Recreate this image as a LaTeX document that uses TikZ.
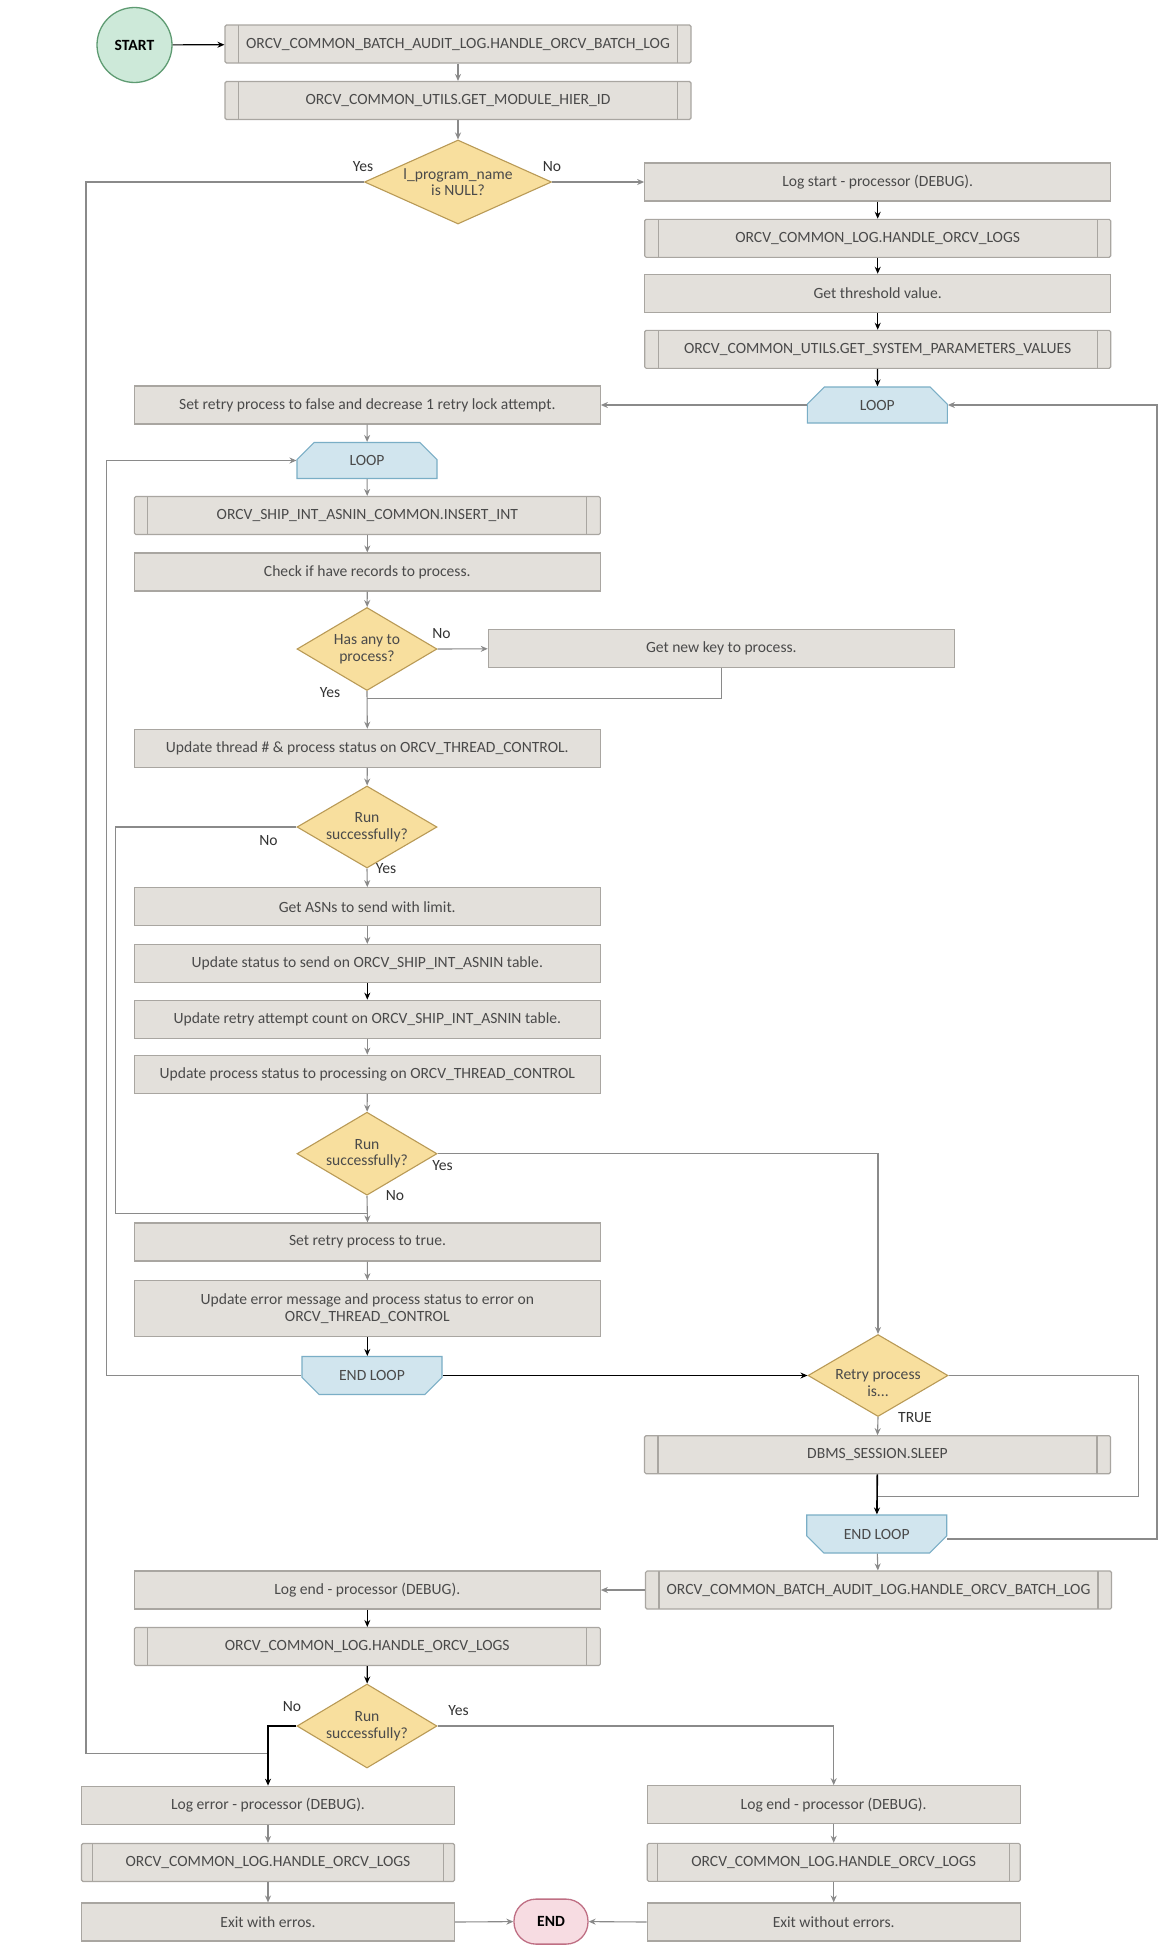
\documentclass[tikz,border=0pt]{standalone}
\usepackage{fontspec}
\setmainfont{Carlito}
\usetikzlibrary{shapes.geometric,shapes.misc,arrows.meta,calc}
\definecolor{boxfill}{HTML}{E3E0DB}
\definecolor{boxline}{HTML}{A9A6A1}
\definecolor{decfill}{HTML}{F8DF9E}
\definecolor{decline}{HTML}{B99A56}
\definecolor{loopfill}{HTML}{D1E5EE}
\definecolor{loopline}{HTML}{7AAEC6}
\definecolor{startfill}{HTML}{CDE9D9}
\definecolor{startline}{HTML}{5E9B72}
\definecolor{endfill}{HTML}{F7DCE2}
\definecolor{endline}{HTML}{BF6F84}
\definecolor{lgray}{HTML}{8A8A8A}
\definecolor{txt}{HTML}{4A4A4A}
\definecolor{lbltxt}{HTML}{333333}
\begin{document}
\begin{tikzpicture}[x=1pt,y=-1pt,
  font=\fontsize{15.6}{17}\selectfont,
  proc/.style={rectangle, draw=boxline, fill=boxfill, line width=1.1pt,
    minimum width=466pt, minimum height=38pt, inner sep=0pt, text=txt, align=center},
  narrow/.style={minimum width=373pt},
  sub/.style={proc, rounded corners=1.5pt,
    path picture={\draw[boxline, line width=1.1pt]
      ([xshift=#1]path picture bounding box.north west) -- ([xshift=#1]path picture bounding box.south west)
      ([xshift=-#1]path picture bounding box.north east) -- ([xshift=-#1]path picture bounding box.south east);}},
  sub/.default=13.5pt,
  dec/.style={diamond, draw=decline, fill=decfill, line width=1.1pt, inner sep=0pt,
    text=txt, align=center, font=\fontsize{15.6}{16.5}\selectfont},
  dectext/.style={text=txt, align=center, inner sep=0pt, font=\fontsize{15.6}{16.5}\selectfont},
  loopst/.style={chamfered rectangle, chamfered rectangle corners={north west,north east},
    chamfered rectangle xsep=30pt, chamfered rectangle ysep=12pt,
    draw=loopline, fill=loopfill, line width=1.1pt,
    minimum width=140pt, minimum height=36pt, inner sep=0pt, text=txt},
  loopend/.style={loopst, chamfered rectangle corners={south west,south east}, minimum height=38pt},
  arr/.style={draw=lgray, line width=1.1pt, -{Stealth[length=7pt,width=6pt]}},
  arrk/.style={draw=black, line width=1.2pt, -{Stealth[length=7pt,width=6pt]}},
  ln/.style={draw=lgray, line width=1.1pt},
  lbl/.style={text=lbltxt, inner sep=0pt, font=\fontsize{15.6}{17}\selectfont}
]
\useasboundingbox[fill=white] (0,0) rectangle (1166,1946);

% nodes
\node[circle, draw=startline, fill=startfill, line width=1.3pt, minimum size=75pt, inner sep=0pt,
  font=\bfseries\fontsize{15.6}{17}\selectfont] (start) at (134.5,45) {START};
\node[sub] (b1) at (458,44) {ORCV\_COMMON\_BATCH\_AUDIT\_LOG.HANDLE\_ORCV\_BATCH\_LOG};
\node[sub] (b2) at (458,100.5) {ORCV\_COMMON\_UTILS.GET\_MODULE\_HIER\_ID};
\node[dec, minimum width=187pt, minimum height=84pt, aspect=2.2] (d1) at (458,182) {l\_program\_name\\is NULL?};
\node[proc] (ls) at (877.7,182) {Log start - processor (DEBUG).};
\node[sub] (lh) at (877.7,238.3) {ORCV\_COMMON\_LOG.HANDLE\_ORCV\_LOGS};
\node[proc] (th) at (877.7,293.3) {Get threshold value.};
\node[sub] (gs) at (877.7,349.3) {ORCV\_COMMON\_UTILS.GET\_SYSTEM\_PARAMETERS\_VALUES};
\node[loopst] (l1) at (877.3,405) {LOOP};
\node[proc] (sf) at (367.3,405) {Set retry process to false and decrease 1 retry lock attempt.};
\node[loopst] (l2) at (367,460.5) {LOOP};
\node[sub] (ins) at (367.3,515.5) {ORCV\_SHIP\_INT\_ASNIN\_COMMON.INSERT\_INT};
\node[proc] (chk) at (367.3,572) {Check if have records to process.};
\node[dec, minimum width=140pt, minimum height=83pt, aspect=1.7] (d2) at (367,649) {Has any to\\process?};
\node[proc] (gnk) at (721.3,648.8) {Get new key to process.};
\node[proc] (ut) at (367.3,748.3) {Update thread \# \& process status on ORCV\_THREAD\_CONTROL.};
\node[dec, minimum width=140pt, minimum height=82pt, aspect=1.7] (d3) at (367,827) {Run\\successfully?};
\node[proc] (ga) at (367.3,906.7) {Get ASNs to send with limit.};
\node[proc] (us) at (367.3,963.5) {Update status to send on ORCV\_SHIP\_INT\_ASNIN table.};
\node[proc] (ur) at (367.3,1019.2) {Update retry attempt count on ORCV\_SHIP\_INT\_ASNIN table.};
\node[proc] (up) at (367.3,1074.2) {Update process status to processing on ORCV\_THREAD\_CONTROL};
\node[dec, minimum width=140pt, minimum height=83pt, aspect=1.7] (d4) at (367,1153.7) {Run\\successfully?};
\node[proc] (st) at (367.5,1242) {Set retry process to true.};
\node[proc, minimum height=56pt] (ue) at (367.3,1308.7) {Update error message and process status to error on\\ORCV\_THREAD\_CONTROL};
\node[loopend] (el1) at (372,1375.5) {END LOOP};
\node[dec, minimum width=140pt, minimum height=82pt, aspect=1.7] (rt) at (878,1375.5) {};
\node[dectext] (rtt) at (878,1383) {Retry process\\is...};
\node[sub] (sl) at (877.5,1454.7) {DBMS\_SESSION.SLEEP};
\node[loopend] (el2) at (876.7,1534) {END LOOP};
\node[sub] (bl2) at (878.5,1590) {ORCV\_COMMON\_BATCH\_AUDIT\_LOG.HANDLE\_ORCV\_BATCH\_LOG};
\node[proc] (le) at (367.3,1590) {Log end - processor (DEBUG).};
\node[sub] (lh2) at (367.3,1646.5) {ORCV\_COMMON\_LOG.HANDLE\_ORCV\_LOGS};
\node[dec, minimum width=140pt, minimum height=84pt, aspect=1.7] (d5) at (367,1726) {Run\\successfully?};
\node[proc, narrow] (ler) at (268,1805.2) {Log error - processor (DEBUG).};
\node[sub=11pt, narrow] (lhe) at (268,1862.5) {ORCV\_COMMON\_LOG.HANDLE\_ORCV\_LOGS};
\node[proc, narrow] (exe) at (268,1922) {Exit with erros.};
\node[rectangle, rounded corners=22pt, draw=endline, fill=endfill, line width=1.3pt,
  minimum width=74pt, minimum height=45pt, inner sep=0pt,
  font=\bfseries\fontsize{15.6}{17}\selectfont] (end) at (551,1921.6) {END};
\node[proc, narrow] (lok) at (833.7,1804.7) {Log end - processor (DEBUG).};
\node[sub=10.5pt, narrow] (lhr) at (833.7,1862.3) {ORCV\_COMMON\_LOG.HANDLE\_ORCV\_LOGS};
\node[proc, narrow] (exo) at (833.7,1922) {Exit without errors.};

% junction coordinates
\coordinate (j1) at (268,1753.7);
\coordinate (j2) at (367,698.3);
\coordinate (j3) at (367,1213.3);
\coordinate (j4) at (877.5,1496.7);

% connectors
\draw[arrk] (start) -- (b1);
\draw[arr] (b1) -- (b2);
\draw[arr] (b2) -- (d1);
\draw[arr] (d1.east) -- (ls.west);
\draw[ln] (d1.west) -| (86,1753.7) -- (j1);
\draw[arrk] (ls) -- (lh);
\draw[arrk] (lh) -- (th);
\draw[arrk] (th) -- (gs);
\draw[arrk] (gs) -- (l1);
\draw[arr] (l1.west) -- (sf.east);
\draw[arr] (sf) -- (l2);
\draw[arr] (l2) -- (ins);
\draw[arr] (ins) -- (chk);
\draw[arr] (chk) -- (d2);
\draw[arr] (d2.east) -- (gnk.west);
\draw[ln] (gnk.south) |- (j2);
\draw[arr] (d2.south) -- (ut.north);
\draw[arr] (ut) -- (d3);
\draw[ln] (d3.west) -| (115.7,1213.3) -- (j3);
\draw[arr] (d3.south) -- (ga.north);
\draw[arr] (ga) -- (us);
\draw[arrk] (us) -- (ur);
\draw[arr] (ur) -- (up);
\draw[arr] (up) -- (d4);
\draw[arr] (d4.south) -- (st.north);
\draw[arr] (d4.east) -| (rt.north);
\draw[arr] (st) -- (ue);
\draw[arrk] (ue.south) -- (ue.south |- el1.north);
\draw[arr] (el1.west) -- (106.8,1375.5) |- (l2.west);
\draw[arrk] (el1.east) -- (rt.west);
\draw[arr] (rt.south) -- (sl.north);
\draw[ln] (rt.east) -| (1138.7,1496.7) -- (j4);
\draw[black, line width=1.6pt, -{Stealth[length=7pt,width=6pt]}] (sl) -- (el2);
\draw[arr] ([yshift=-5pt]el2.east) -- (1157,1539) |- (l1.east);
\draw[arr] (el2) -- (bl2);
\draw[arr] (bl2.west) -- (le.east);
\draw[arrk] (le) -- (lh2);
\draw[arrk] (lh2) -- (d5);
\draw[arrk] (d5.west) -| (ler.north);
\draw[arr] (d5.east) -| (lok.north);
\draw[arr] (ler) -- (lhe);
\draw[arr] (lhe) -- (exe);
\draw[arr] (exe.east) -- (end.west);
\draw[arr] (lok) -- (lhr);
\draw[arr] (lhr) -- (exo);
\draw[arr] (exo.west) -- (end.east);

% labels
\node[lbl] (y1) at ([xshift=-1pt,yshift=15pt]d1.west) {Yes};
\node[lbl] (n1) at ([yshift=15pt]d1.east) {No};
\node[lbl] (n2) at ([xshift=4pt,yshift=15.5pt]d2.east) {No};
\node[lbl] (y2) at ([xshift=-37pt,yshift=-1pt]d2.south) {Yes};
\node[lbl] (n3) at ([xshift=-28pt,yshift=-13.5pt]d3.west) {No};
\node[lbl] (y3) at ([xshift=19pt]d3.south) {Yes};
\node[lbl] (y4) at ([xshift=5pt,yshift=-12pt]d4.east) {Yes};
\node[lbl] (n4) at ([xshift=28pt]d4.south) {No};
\node[lbl] (tr) at ([xshift=37pt]rt.south) {TRUE};
\node[lbl] (n5) at ([xshift=-4.5pt,yshift=19pt]d5.west) {No};
\node[lbl] (y5) at ([xshift=21pt,yshift=15.5pt]d5.east) {Yes};
\end{tikzpicture}
\end{document}
